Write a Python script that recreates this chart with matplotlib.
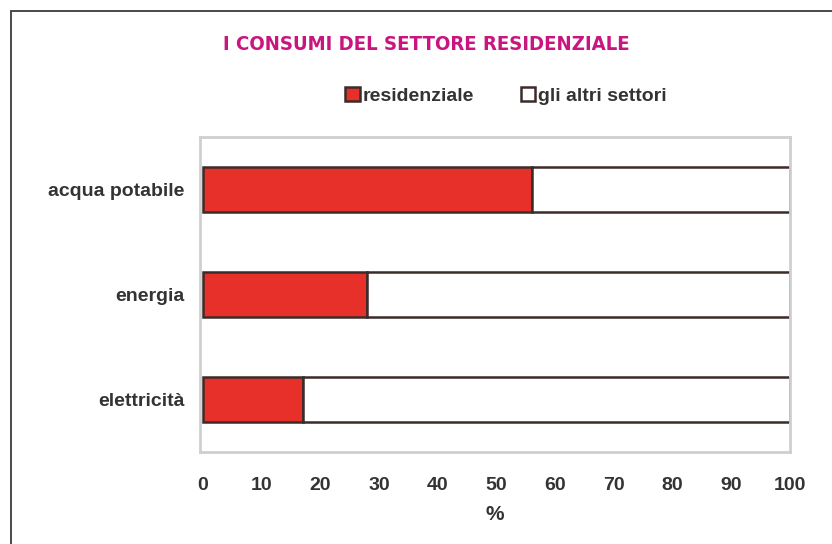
import matplotlib.pyplot as plt
from matplotlib.patches import Rectangle

categorie = ["acqua potabile", "energia", "elettricità"]
residenziale = [56, 28, 17]
altri_settori = [44, 72, 83]
tick_x = [0, 10, 20, 30, 40, 50, 60, 70, 80, 90, 100]

rosso = "#e8302a"
bordo = "#3b2b29"
magenta = "#c8157f"
testo = "#333333"
font_testo = ["Liberation Sans", "DejaVu Sans"]

fig = plt.figure(figsize=(8.32, 5.44), dpi=100)
fig.patch.set_facecolor("white")

# cornice della pagina (aperta a destra e in basso)
fig.patches.append(Rectangle((11 / 832, -0.1), 1.1, 1.1 - 11 / 544,
                             transform=fig.transFigure, fill=False,
                             edgecolor="#3a3a3a", linewidth=1.3))

ax = fig.add_axes([200 / 832, 1 - 452 / 544, 590 / 832, 315 / 544])

y = list(range(len(categorie)))
ax.barh(y, residenziale, height=0.42, color=rosso, edgecolor=bordo,
        linewidth=1.8, label="residenziale")
ax.barh(y, altri_settori, left=residenziale, height=0.42, color="white",
        edgecolor=bordo, linewidth=1.8, label="gli altri settori")

ax.set_xlim(-0.5, 100)
ax.set_ylim(2.5, -0.5)
ax.set_yticks(y)
ax.set_yticklabels(categorie)
ax.set_xticks(tick_x)
ax.tick_params(axis="both", length=0, labelsize=14, colors=testo)
ax.tick_params(axis="x", pad=18)
ax.tick_params(axis="y", pad=11)
for lab in ax.get_xticklabels() + ax.get_yticklabels():
    lab.set_fontweight("bold")
    lab.set_family(font_testo)
for s in ax.spines.values():
    s.set_color("#cfcfcf")
    s.set_linewidth(2)

ax.set_xlabel("%", fontsize=15, fontweight="bold", color=testo,
              labelpad=8, family=font_testo)

fig.text(426 / 832, 1 - 45 / 544, "I CONSUMI DEL SETTORE RESIDENZIALE",
         ha="center", va="center", color=magenta, fontsize=14.6,
         fontweight="bold", fontstretch="condensed",
         family=["DejaVu Sans", "Liberation Sans"])

leg = fig.legend(loc="center", bbox_to_anchor=(506 / 832, 1 - 96 / 544),
                 ncol=2, frameon=False, handlelength=0.75, handleheight=0.75,
                 handletextpad=0.15, columnspacing=2.4,
                 prop={"family": font_testo, "size": 14, "weight": "bold"})
for t in leg.get_texts():
    t.set_color(testo)

fig.savefig("out.png", dpi=100)
